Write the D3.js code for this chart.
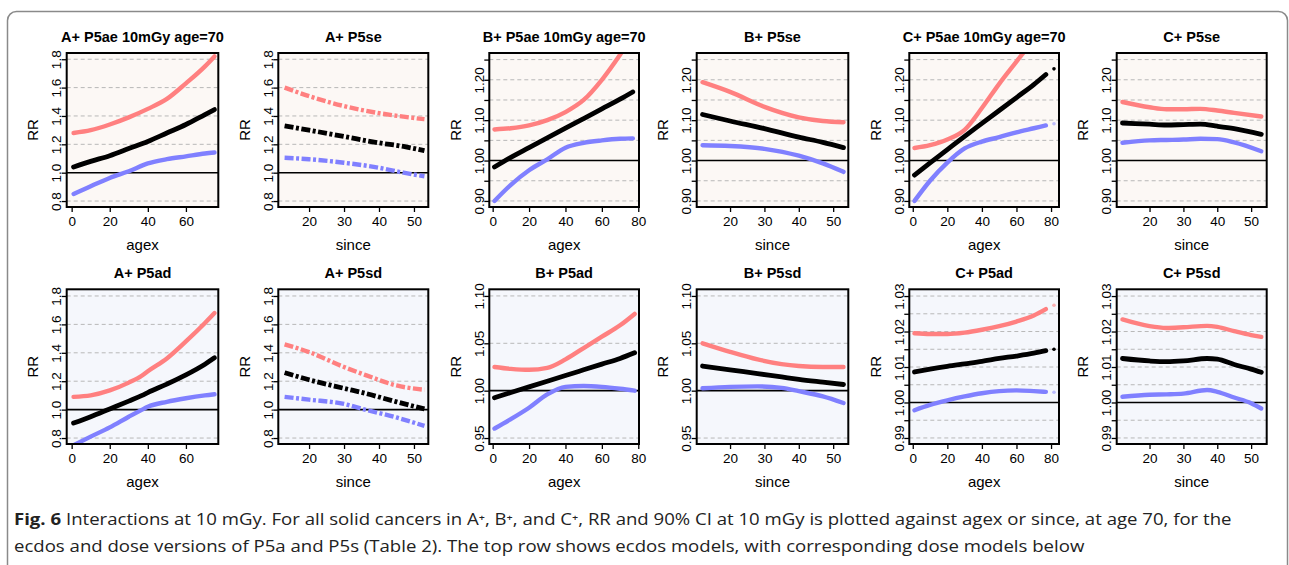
<!DOCTYPE html>
<html><head><meta charset="utf-8">
<script src="https://cdn.jsdelivr.net/npm/d3@7"></script>
<style>body{margin:0;background:#fff} svg{display:block}</style>
</head><body>
<svg id="c" width="1289" height="565"></svg>
<script>
// ---------------- DATA ----------------
// A+ P5ae (agex)
const A_ae_x   = [1, 10, 20, 30, 40, 50, 60, 70, 75];
const A_ae_lo  = [0.85, 0.905, 0.963, 1.01, 1.065, 1.095, 1.115, 1.135, 1.142];
const A_ae_est = [1.04, 1.08, 1.12, 1.17, 1.22, 1.28, 1.34, 1.41, 1.445];
const A_ae_hi  = [1.28, 1.30, 1.34, 1.39, 1.45, 1.52, 1.63, 1.75, 1.82];
// A+ P5se (since)
const A_se_x   = [13, 20, 30, 40, 47, 53];
const A_se_lo  = [1.105, 1.095, 1.07, 1.035, 1.0, 0.975];
const A_se_est = [1.33, 1.30, 1.255, 1.21, 1.185, 1.155];
const A_se_hi  = [1.60, 1.54, 1.47, 1.42, 1.395, 1.377];
// B+ P5ae (agex)
const B_ae_x   = [1, 10, 20, 30, 40, 50, 60, 70, 77];
const B_ae_lo  = [0.90, 0.94, 0.976, 1.003, 1.032, 1.044, 1.05, 1.054, 1.055];
const B_ae_est = [0.984, 1.008, 1.032, 1.056, 1.08, 1.104, 1.128, 1.152, 1.170];
const B_ae_hi  = [1.077, 1.08, 1.087, 1.10, 1.12, 1.15, 1.20, 1.262, 1.31];
// B+ P5se (since)
const B_se_x   = [12, 20, 30, 40, 47, 53];
const B_se_lo  = [1.038, 1.036, 1.029, 1.012, 0.993, 0.972];
const B_se_est = [1.114, 1.098, 1.079, 1.058, 1.045, 1.032];
const B_se_hi  = [1.194, 1.17, 1.133, 1.107, 1.098, 1.095];
// C+ P5ae (agex)
const C_ae_x   = [1, 10, 20, 30, 40, 50, 60, 70, 77];
const C_ae_lo  = [0.90, 0.95, 0.995, 1.03, 1.047, 1.058, 1.07, 1.08, 1.087];
const C_ae_est = [0.964, 0.994, 1.027, 1.06, 1.092, 1.124, 1.156, 1.188, 1.213];
const C_ae_hi  = [1.031, 1.038, 1.052, 1.076, 1.13, 1.19, 1.245, 1.30, 1.34];
const C_ae_tailX = [81.7];
const C_ae_tailLo = [1.091];
const C_ae_tailEst = [1.227];
// C+ P5se (since)
const C_se_x   = [12, 20, 25, 30, 35, 40, 45, 53];
const C_se_lo  = [1.044, 1.05, 1.051, 1.052, 1.054, 1.053, 1.045, 1.023];
const C_se_est = [1.093, 1.09, 1.088, 1.089, 1.09, 1.085, 1.079, 1.065];
const C_se_hi  = [1.145, 1.132, 1.127, 1.127, 1.128, 1.124, 1.118, 1.109];
// A+ P5ad (agex)
const A_ad_x   = [1, 10, 20, 30, 37, 40, 50, 60, 70, 75];
const A_ad_lo  = [0.75, 0.81, 0.875, 0.95, 1.0, 1.02, 1.055, 1.08, 1.10, 1.108];
const A_ad_est = [0.905, 0.95, 1.005, 1.06, 1.10, 1.12, 1.18, 1.245, 1.32, 1.365];
const A_ad_hi  = [1.09, 1.10, 1.135, 1.19, 1.24, 1.27, 1.36, 1.48, 1.61, 1.68];
// A+ P5sd (since)
const A_sd_x   = [13, 20, 30, 36, 45, 53];
const A_sd_lo  = [1.09, 1.07, 1.04, 1.0, 0.945, 0.885];
const A_sd_est = [1.26, 1.21, 1.15, 1.115, 1.055, 1.005];
const A_sd_hi  = [1.46, 1.405, 1.30, 1.245, 1.17, 1.14];
// B+ P5ad (agex)
const B_ad_x   = [1, 10, 20, 30, 40, 50, 60, 70, 78];
const B_ad_lo  = [0.96, 0.97, 0.982, 0.996, 1.004, 1.005, 1.004, 1.002, 1.0];
const B_ad_est = [0.9925, 0.998, 1.004, 1.010, 1.016, 1.022, 1.028, 1.034, 1.04];
const B_ad_hi  = [1.025, 1.023, 1.022, 1.024, 1.033, 1.045, 1.057, 1.069, 1.081];
// B+ P5sd (since)
const B_sd_x   = [12, 20, 28, 35, 40, 47, 53];
const B_sd_lo  = [1.0025, 1.004, 1.0045, 1.003, 0.9995, 0.994, 0.987];
const B_sd_est = [1.026, 1.022, 1.018, 1.0145, 1.012, 1.009, 1.0065];
const B_sd_hi  = [1.05, 1.041, 1.033, 1.028, 1.026, 1.025, 1.025];
// C+ P5ad (agex)
const C_ad_x   = [1, 10, 20, 30, 40, 50, 60, 70, 77];
const C_ad_lo  = [0.9978, 0.9993, 1.0006, 1.0017, 1.0026, 1.0032, 1.0034, 1.0032, 1.003];
const C_ad_est = [1.0086, 1.0094, 1.0102, 1.0109, 1.0116, 1.0124, 1.0131, 1.0139, 1.0146];
const C_ad_hi  = [1.0195, 1.0193, 1.0193, 1.0197, 1.0205, 1.0215, 1.0228, 1.0245, 1.0263];
const C_ad_tailX = [81.7];
const C_ad_tailLo = [1.0029];
const C_ad_tailEst = [1.015];
const C_ad_tailHi = [1.0274];
// C+ P5sd (since)
const C_sd_x   = [12, 20, 25, 30, 37, 40, 45, 50, 53];
const C_sd_lo  = [1.0016, 1.0022, 1.0023, 1.0025, 1.0035, 1.003, 1.0014, 0.9998, 0.9983];
const C_sd_est = [1.0124, 1.0117, 1.0115, 1.0117, 1.0124, 1.0122, 1.0107, 1.0094, 1.0085];
const C_sd_hi  = [1.0234, 1.0215, 1.021, 1.0212, 1.0216, 1.0213, 1.0201, 1.019, 1.0185];

// tick sets
const tA   = [0.8, 1.0, 1.2, 1.4, 1.6, 1.8];
const tBCt = [0.90, 0.95, 1.00, 1.05, 1.10, 1.15, 1.20, 1.25];
const lBCt = [0.90, 1.00, 1.10, 1.20];
const tBb  = [0.95, 1.00, 1.05, 1.10];
const tCb  = [0.99, 0.995, 1.00, 1.005, 1.01, 1.015, 1.02, 1.025, 1.03];
const lCb  = [0.99, 1.00, 1.01, 1.02, 1.03];
const xtAge4 = [0, 20, 40, 60];
const xtAge5 = [0, 20, 40, 60, 80];
const xtSince = [20, 30, 40, 50];

const titles = ["A+ P5ae 10mGy age=70", "A+ P5se", "B+ P5ae 10mGy age=70", "B+ P5se", "C+ P5ae 10mGy age=70", "C+ P5se",
                "A+ P5ad", "A+ P5sd", "B+ P5ad", "B+ P5sd", "C+ P5ad", "C+ P5sd"];

// ---------------- LAYOUT ----------------
const colX = [[66.7, 218.3], [278.3, 428.3], [489.3, 639], [696.7, 848.3], [909.3, 1059], [1116.7, 1266.7]];
const rowY = [[53, 207], [289.3, 444]];
const RED = "#ff8080", BLUE = "#8080ff", BLK = "#000";
const F = "'Liberation Sans', Arial, Helvetica, sans-serif";

const f1 = d3.format(".1f"), f2 = d3.format(".2f");
const panels = [
  {x:A_ae_x, lo:A_ae_lo, est:A_ae_est, hi:A_ae_hi, xd:[-2.6,77], yd:[0.758,1.844], xt:xtAge4, yt:tA, yl:tA, fmt:f1, xlab:"agex"},
  {x:A_se_x, lo:A_se_lo, est:A_se_est, hi:A_se_hi, xd:[11.2,54.1], yd:[0.758,1.844], xt:xtSince, yt:tA, yl:tA, fmt:f1, xlab:"since", dash:true},
  {x:B_ae_x, lo:B_ae_lo, est:B_ae_est, hi:B_ae_hi, xd:[-1.85,80.4], yd:[0.885,1.2663], xt:xtAge5, yt:tBCt, yl:lBCt, fmt:f2, xlab:"agex"},
  {x:B_se_x, lo:B_se_lo, est:B_se_est, hi:B_se_hi, xd:[10.3,54.4], yd:[0.885,1.2663], xt:xtSince, yt:tBCt, yl:lBCt, fmt:f2, xlab:"since"},
  {x:C_ae_x, lo:C_ae_lo, est:C_ae_est, hi:C_ae_hi, xd:[-2,84.6], yd:[0.885,1.2663], xt:xtAge5, yt:tBCt, yl:lBCt, fmt:f2, xlab:"agex",
     tail:{x:C_ae_tailX, lo:C_ae_tailLo, est:C_ae_tailEst}},
  {x:C_se_x, lo:C_se_lo, est:C_se_est, hi:C_se_hi, xd:[10.3,54.6], yd:[0.885,1.2663], xt:xtSince, yt:tBCt, yl:lBCt, fmt:f2, xlab:"since"},
  {x:A_ad_x, lo:A_ad_lo, est:A_ad_est, hi:A_ad_hi, xd:[-2.6,77], yd:[0.758,1.847], xt:xtAge4, yt:tA, yl:tA, fmt:f1, xlab:"agex"},
  {x:A_sd_x, lo:A_sd_lo, est:A_sd_est, hi:A_sd_hi, xd:[11.2,54.1], yd:[0.758,1.847], xt:xtSince, yt:tA, yl:tA, fmt:f1, xlab:"since", dash:true},
  {x:B_ad_x, lo:B_ad_lo, est:B_ad_est, hi:B_ad_hi, xd:[-1.85,80.4], yd:[0.9437,1.107], xt:xtAge5, yt:tBb, yl:tBb, fmt:f2, xlab:"agex"},
  {x:B_sd_x, lo:B_sd_lo, est:B_sd_est, hi:B_sd_hi, xd:[10.3,54.4], yd:[0.9437,1.107], xt:xtSince, yt:tBb, yl:tBb, fmt:f2, xlab:"since"},
  {x:C_ad_x, lo:C_ad_lo, est:C_ad_est, hi:C_ad_hi, xd:[-2,84.6], yd:[0.9883,1.0319], xt:xtAge5, yt:tCb, yl:lCb, fmt:f2, xlab:"agex",
     tail:{x:C_ad_tailX, lo:C_ad_tailLo, est:C_ad_tailEst, hi:C_ad_tailHi}},
  {x:C_sd_x, lo:C_sd_lo, est:C_sd_est, hi:C_sd_hi, xd:[10.3,54.6], yd:[0.9883,1.0319], xt:xtSince, yt:tCb, yl:lCb, fmt:f2, xlab:"since"}
];

const svg = d3.select("#c");
svg.append("rect").attr("width",1289).attr("height",565).attr("fill","#fff");
// outer page frame
svg.append("rect").attr("x",7.5).attr("y",11.5).attr("width",1280).attr("height",620)
  .attr("rx",9).attr("fill","none").attr("stroke","#8a8a8a").attr("stroke-width",1.5);

const defs = svg.append("defs");

panels.forEach((p, i) => {
  const row = i < 6 ? 0 : 1, col = i % 6;
  const [x0, x1] = colX[col], [y0, y1] = rowY[row];
  const xs = d3.scaleLinear().domain(p.xd).range([x0, x1]);
  const ys = d3.scaleLinear().domain(p.yd).range([y1, y0]);
  const g = svg.append("g");
  const cid = "clip" + i;
  defs.append("clipPath").attr("id", cid).append("rect")
    .attr("x", x0).attr("y", y0).attr("width", x1 - x0).attr("height", y1 - y0);

  g.append("rect").attr("x", x0).attr("y", y0).attr("width", x1 - x0).attr("height", y1 - y0)
    .attr("fill", row === 0 ? "#fcf8f5" : "#f5f7fc");

  // grid lines
  g.selectAll(".grid").data(p.yt.filter(v => Math.abs(v - 1) > 1e-9)).join("line")
    .attr("x1", x0).attr("x2", x1).attr("y1", d => ys(d)).attr("y2", d => ys(d))
    .attr("stroke", "#b8b8b8").attr("stroke-width", 1).attr("stroke-dasharray", "4,3");
  // reference line at 1
  g.append("line").attr("x1", x0).attr("x2", x1).attr("y1", ys(1)).attr("y2", ys(1))
    .attr("stroke", "#000").attr("stroke-width", 1.6);

  // curves
  const cg = g.append("g").attr("clip-path", `url(#${cid})`);
  const series = [[p.hi, RED, 4.4], [p.lo, BLUE, 4.4], [p.est, BLK, 4.8]];
  series.forEach(([vals, col, w]) => {
    const line = d3.line().x(d => xs(d[0])).y(d => ys(d[1])).curve(d3.curveMonotoneX);
    const path = cg.append("path").attr("d", line(p.x.map((xv, k) => [xv, vals[k]])))
      .attr("fill", "none").attr("stroke", col).attr("stroke-width", w)
      .attr("stroke-linecap", p.dash ? "butt" : "round").attr("stroke-linejoin", "round");
    if (p.dash) path.attr("stroke-dasharray", "9,2.5,3,2.5");
  });
  if (p.tail) {
    const t = p.tail;
    if (t.hi) cg.append("circle").attr("cx", xs(t.x[0])).attr("cy", ys(t.hi[0])).attr("r", 1.8).attr("fill", RED).attr("opacity", 0.6);
    cg.append("circle").attr("cx", xs(t.x[0])).attr("cy", ys(t.lo[0])).attr("r", 1.8).attr("fill", BLUE).attr("opacity", 0.5);
    cg.append("circle").attr("cx", xs(t.x[0])).attr("cy", ys(t.est[0])).attr("r", 1.8).attr("fill", BLK);
  }

  // axes
  const ax = g.append("g").attr("transform", `translate(0,${y1})`)
    .call(d3.axisBottom(xs).tickValues(p.xt).tickSize(5).tickPadding(4).tickFormat(d3.format("d")));
  ax.attr("font-family", F).attr("font-size", 13.5);
  ax.select(".domain").remove();
  ax.selectAll("line").attr("stroke", "#000").attr("stroke-width", 1.3);
  ax.selectAll("text").attr("fill", "#000");

  const labelSet = new Set(p.yl.map(v => v.toFixed(4)));
  const ay = g.append("g").attr("transform", `translate(${x0},0)`)
    .call(d3.axisLeft(ys).tickValues(p.yt).tickSize(5)
      .tickFormat(d => labelSet.has(d.toFixed(4)) ? p.fmt(d) : ""));
  ay.attr("font-family", F).attr("font-size", 13.5);
  ay.select(".domain").remove();
  ay.selectAll("line").attr("stroke", "#000").attr("stroke-width", 1.3);
  ay.selectAll("text").attr("fill", "#000")
    .attr("x", null).attr("dy", null).attr("text-anchor", "middle")
    .attr("transform", "translate(-5.5,0) rotate(-90)");

  // frame
  g.append("rect").attr("x", x0).attr("y", y0).attr("width", x1 - x0).attr("height", y1 - y0)
    .attr("fill", "none").attr("stroke", "#000").attr("stroke-width", 2);

  // labels
  g.append("text").attr("x", (x0 + x1) / 2).attr("y", y0 - 11).attr("text-anchor", "middle")
    .attr("font-family", F).attr("font-size", 14.5).attr("font-weight", "bold").text(titles[i]);
  g.append("text").attr("x", (x0 + x1) / 2).attr("y", y1 + 43).attr("text-anchor", "middle")
    .attr("font-family", F).attr("font-size", 15).text(p.xlab);
  g.append("text").attr("transform", `translate(${x0 - 28.5},${(y0 + y1) / 2}) rotate(-90)`)
    .attr("text-anchor", "middle").attr("font-family", F).attr("font-size", 15).text("RR");
});

// caption: first line fitted to the full width, second line in the same scale
const CF = "'Open Sans', 'Noto Sans', sans-serif";
const cap1 = "Interactions at 10 mGy. For all solid cancers in A\u207A, B\u207A, and C\u207A, RR and 90% CI at 10 mGy is plotted against agex or since, at age 70, for the";
const cap2 = "ecdos and dose versions of P5a and P5s (Table 2). The top row shows ecdos models, with corresponding dose models below";
const capG1 = svg.append("text").attr("font-family", CF).attr("font-size", 16).attr("fill", "#222");
capG1.append("tspan").attr("font-weight", "bold").text("Fig. 6");
capG1.append("tspan").text(" " + cap1);
const w1 = capG1.node().getComputedTextLength();
const s = 1219 / w1;
capG1.attr("transform", `translate(14,525) scale(${s},1)`);
svg.append("text").attr("font-family", CF).attr("font-size", 16).attr("fill", "#222")
  .attr("transform", `translate(14,552) scale(${s},1)`).text(cap2);
</script>
</body></html>
